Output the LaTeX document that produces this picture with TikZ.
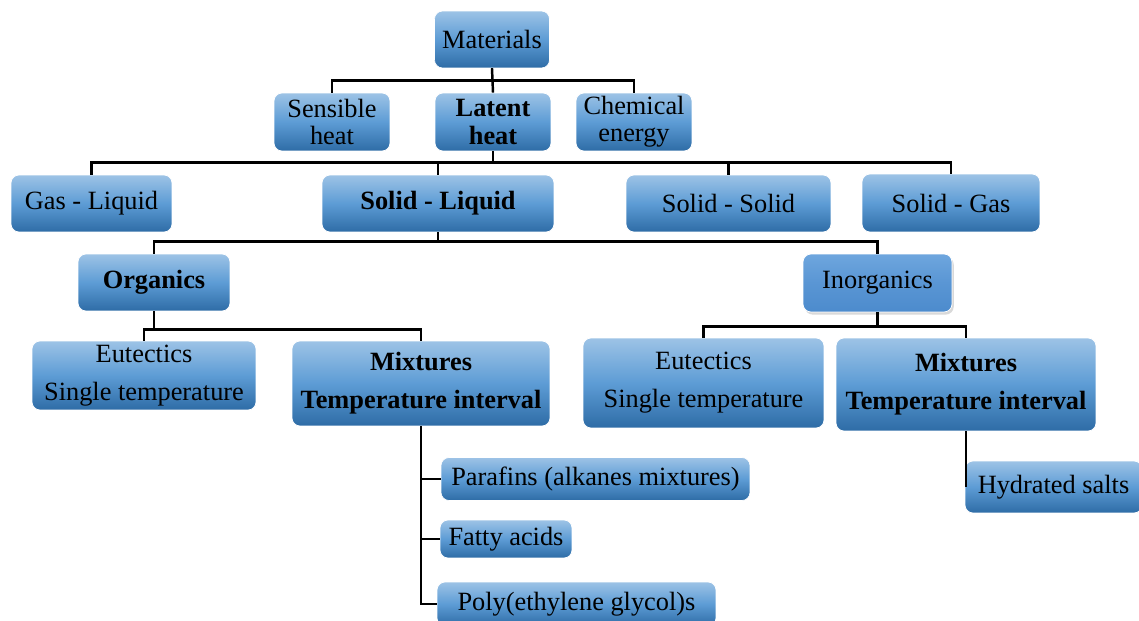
\documentclass[tikz,border=0pt]{standalone}
\usepackage{fontspec}
\setmainfont{Liberation Serif}
\usetikzlibrary{shadows}
\definecolor{boxtop}{RGB}{157,195,230}
\definecolor{boxmid}{RGB}{93,156,213}
\definecolor{boxbot}{RGB}{46,108,166}
\definecolor{flattop}{RGB}{110,166,222}
\definecolor{flatbot}{RGB}{76,139,205}
\tikzset{
  basic/.style  = {rectangle, rounded corners=0.16cm, draw=white, line width=0.4pt,
                   top color=boxtop, bottom color=boxbot, middle color=boxmid,
                   align=center, inner sep=0pt, font=\fontsize{15}{15.5}\selectfont},
  strong/.style = {basic, font=\fontsize{15}{15.5}\selectfont\bfseries},
  flat/.style   = {basic, top color=flattop, bottom color=flatbot, middle color=flatbot!60!flattop,
                   drop shadow={opacity=0.3, shadow xshift=1pt, shadow yshift=-1.5pt}},
  link/.style   = {line width=1.4pt, black}
}

\begin{document}
\begin{tikzpicture}[x=0.02cm, y=-0.02cm]
\useasboundingbox (0,0) rectangle (1139,621);
\clip (0,0) rectangle (1139,621);

% top of the tree
\node[basic, minimum width=2.3cm, minimum height=1.14cm] (mat) at (492,39.5) {Materials};

% the three kinds of storage
\node[basic, minimum width=2.32cm, minimum height=1.16cm] (sens) at (332,122) {Sensible\\heat};
\node[strong, minimum width=2.32cm, minimum height=1.16cm] (lat) at (493,122) {Latent\\heat};
\node[basic, minimum width=2.32cm, minimum height=1.16cm] (chem) at (634,122) {Chemical\\energy};

% phase changes
\node[basic, minimum width=3.22cm, minimum height=1.14cm] (gl) at (91.5,203.5) {Gas - Liquid};
\node[strong, minimum width=4.64cm, minimum height=1.14cm] (sl) at (438,203.5) {Solid - Liquid};
\node[basic, minimum width=4.1cm, minimum height=1.14cm] (ss) at (728.5,203.5) {Solid - Solid};
\node[basic, minimum width=3.56cm, minimum height=1.16cm] (sg) at (951,203) {Solid - Gas};

% solid - liquid materials
\node[strong, minimum width=3.04cm, minimum height=1.14cm] (org) at (154,282.5) {Organics};
\node[flat, minimum width=2.98cm, minimum height=1.16cm] (inorg) at (877.5,283) {Inorganics};

% organics
\node[basic, minimum width=4.48cm, minimum height=1.38cm] (eutL) at (144,375.5) {Eutectics\\[6pt]Single temperature};
\node[strong, minimum width=5.16cm, minimum height=1.7cm] (mixL) at (421,383.5) {Mixtures\\[6pt]Temperature interval};
\node[basic, minimum width=6.18cm, minimum height=0.86cm] (par) at (595.5,479) {Parafins (alkanes mixtures)};
\node[basic, minimum width=2.64cm, minimum height=0.76cm] (fat) at (506,539) {Fatty acids};
\node[basic, minimum width=5.58cm, minimum height=0.88cm] (peg) at (576.5,604) {Poly(ethylene glycol)s};

% inorganics
\node[basic, minimum width=4.82cm, minimum height=1.8cm] (eutR) at (703.5,383) {Eutectics\\[6pt]Single temperature};
\node[strong, minimum width=5.2cm, minimum height=1.86cm] (mixR) at (966,384.5) {Mixtures\\[6pt]Temperature interval};
\node[basic, minimum width=3.54cm, minimum height=1.04cm] (hyd) at (1053.5,487) {Hydrated salts};

% lines from each node to its children
\draw[link] (mat.south) -- ++(0,12) -| (sens.north);
\draw[link] (mat.south) -- ++(0,12) -| (chem.north);
\draw[link] (mat.south) -- (lat.north);

\foreach \n in {gl,sl,ss,sg}
  \draw[link] (lat.south) -- ++(0,11) -| (\n.north);

\foreach \n in {org,inorg}
  \draw[link] (sl.south) -- ++(0,9) -| (\n.north);

\foreach \n in {eutL,mixL}
  \draw[link] (org.south) -- ++(0,18) -| (\n.north);

\foreach \n in {par,fat,peg}
  \draw[link] (mixL.south) |- (\n.west);

\foreach \n in {eutR,mixR}
  \draw[link] (inorg.south) -- ++(0,14) -| (\n.north);

\draw[link] (mixR.south) -- (mixR.south |- hyd.west);
\end{tikzpicture}
\end{document}
